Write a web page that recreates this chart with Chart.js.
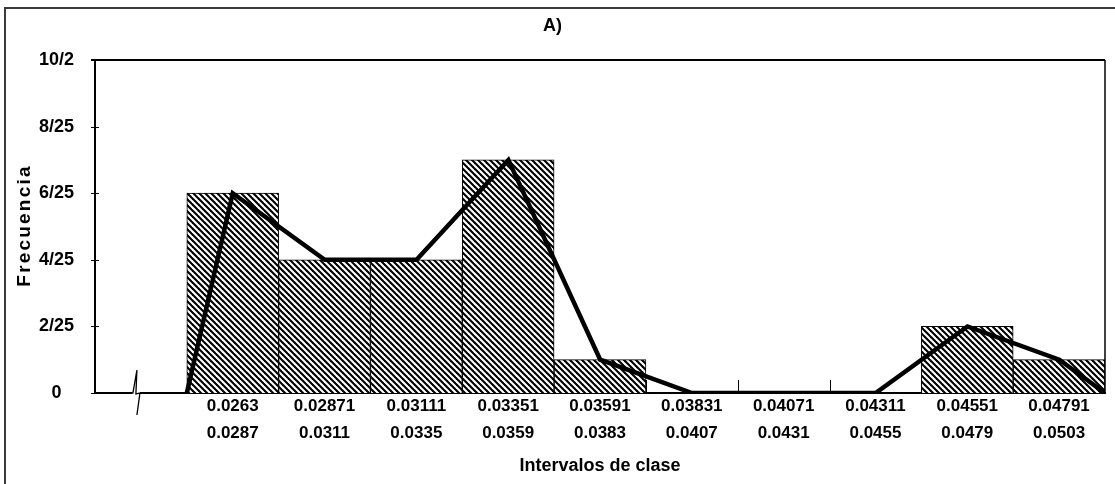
<!DOCTYPE html>
<html>
<head>
<meta charset="utf-8">
<script src="https://cdn.jsdelivr.net/npm/chart.js@4.4.1/dist/chart.umd.min.js"></script>
<style>
  html, body { margin: 0; padding: 0; background: #fff; }
  #wrap { width: 1115px; height: 484px; position: relative; }
</style>
</head>
<body>
<div id="wrap"><canvas id="histo"></canvas></div>
<script>
// Class intervals (lower / upper bounds) and their frequencies
const lowerBounds = ['0.0263', '0.02871', '0.03111', '0.03351', '0.03591', '0.03831', '0.04071', '0.04311', '0.04551', '0.04791'];
const upperBounds = ['0.0287', '0.0311', '0.0335', '0.0359', '0.0383', '0.0407', '0.0431', '0.0455', '0.0479', '0.0503'];
const frequencies = [6, 4, 4, 7, 1, 0, 0, 0, 2, 1];
const yTickLabels = ['0', '2/25', '4/25', '6/25', '8/25', '10/2'];
const classWidth = 0.0024;

const FONT = "'Liberation Sans', Arial, sans-serif";

// One empty leading category holds the axis break
const categories = [['', '']].concat(lowerBounds.map((lo, i) => [lo, upperBounds[i]]));
const barValues = [null].concat(frequencies);

// Frequency polygon: closes at the outer class limits, passes through class marks
const first = parseFloat(lowerBounds[0]);
const last = parseFloat(upperBounds[upperBounds.length - 1]);
const polygon = [{ x: first, y: 0 }]
  .concat(frequencies.map((f, i) => ({
    x: (parseFloat(lowerBounds[i]) + parseFloat(upperBounds[i])) / 2,
    y: f
  })))
  .concat([{ x: last, y: 0 }]);

// Diagonal hatch fill
function hatch() {
  const s = 6;
  const c = document.createElement('canvas');
  c.width = s; c.height = s;
  const g = c.getContext('2d');
  g.fillStyle = '#fff';
  g.fillRect(0, 0, s, s);
  g.strokeStyle = '#000';
  g.lineWidth = 2.1;
  for (const k of [-s, 0, s]) {
    g.beginPath();
    g.moveTo(-1, k - 1);
    g.lineTo(s + 1, k + s + 1);
    g.stroke();
  }
  return g.createPattern(c, 'repeat');
}

const decorations = {
  id: 'decorations',
  beforeDraw(chart) {
    const ctx = chart.ctx;
    ctx.save();
    ctx.strokeStyle = '#3a3a3a';
    ctx.lineWidth = 2;
    ctx.strokeRect(5, 8, 1200, 600);
    ctx.restore();
  },
  beforeDatasetsDraw(chart) {
    const ctx = chart.ctx, a = chart.chartArea, x = chart.scales.x;
    ctx.save();
    ctx.strokeStyle = '#000';
    ctx.lineWidth = 1;
    // upward tick marks at class boundaries
    for (let i = 1; i < categories.length; i++) {
      const px = Math.round((x.getPixelForValue(i - 1) + x.getPixelForValue(i)) / 2) + 0.5;
      ctx.beginPath();
      ctx.moveTo(px, a.bottom);
      ctx.lineTo(px, a.bottom - 13);
      ctx.stroke();
    }
    ctx.restore();
  },
  afterDraw(chart) {
    const ctx = chart.ctx, a = chart.chartArea, y = chart.scales.y, x = chart.scales.x;
    ctx.save();
    ctx.strokeStyle = '#000';
    // frame top and right
    ctx.lineWidth = 2;
    ctx.beginPath();
    ctx.moveTo(a.left - 4, a.top);
    ctx.lineTo(a.right, a.top);
    ctx.stroke();
    ctx.lineWidth = 1.5;
    ctx.beginPath();
    ctx.moveTo(a.right, a.top);
    ctx.lineTo(a.right, a.bottom);
    ctx.stroke();
    // y tick marks crossing the axis
    ctx.lineWidth = 1;
    y.ticks.forEach(t => {
      const py = Math.round(y.getPixelForValue(t.value)) + 0.5;
      ctx.beginPath();
      ctx.moveTo(a.left - 4, py);
      ctx.lineTo(a.left + 4, py);
      ctx.stroke();
    });
    // axis break
    const bx = x.getPixelForValue(0) - 4, by = a.bottom;
    ctx.fillStyle = '#fff';
    ctx.fillRect(bx - 5, by - 2, 8, 4);
    ctx.lineWidth = 1.3;
    ctx.beginPath();
    ctx.moveTo(bx - 7, by);
    ctx.lineTo(bx - 4, by);
    ctx.lineTo(bx, by - 23);
    ctx.lineTo(bx - 1, by + 1);
    ctx.lineTo(bx + 3, by);
    ctx.lineTo(bx, by + 22);
    ctx.stroke();
    // rotated y title with letter spacing
    ctx.fillStyle = '#000';
    ctx.font = "bold 19px " + FONT;
    ctx.translate(25, (a.top + a.bottom) / 2);
    ctx.rotate(-Math.PI / 2);
    ctx.textAlign = 'center';
    ctx.textBaseline = 'middle';
    if ('letterSpacing' in ctx) ctx.letterSpacing = '2.2px';
    ctx.fillText('Frecuencia', 1, 0);
    ctx.restore();
  }
};

new Chart(document.getElementById('histo'), {
  data: {
    labels: categories,
    datasets: [
      {
        type: 'line',
        data: polygon,
        xAxisID: 'xp',
        borderColor: '#000',
        borderWidth: 4.5,
        pointRadius: 0,
        tension: 0,
        order: 0
      },
      {
        type: 'bar',
        data: barValues,
        xAxisID: 'x',
        backgroundColor: hatch(),
        borderColor: '#000',
        borderWidth: 1,
        grouped: false,
        barPercentage: 1,
        categoryPercentage: 1,
        order: 1
      }
    ]
  },
  options: {
    responsive: true,
    maintainAspectRatio: false,
    animation: false,
    events: [],
    layout: { padding: { left: 0, right: 10, top: 0, bottom: 0 } },
    plugins: {
      legend: { display: false },
      tooltip: { enabled: false },
      title: {
        display: true,
        text: 'A)',
        color: '#000',
        font: { family: FONT, size: 18, weight: 'bold', lineHeight: 1.2 },
        padding: { top: 15, bottom: 23.4 }
      }
    },
    scales: {
      x: {
        type: 'category',
        position: 'bottom',
        offset: true,
        grid: { display: false, drawTicks: false },
        border: { display: true, color: '#000', width: 2 },
        ticks: {
          color: '#000',
          padding: 0,
          autoSkip: false,
          maxRotation: 0,
          font: { family: FONT, size: 17, weight: 'bold', lineHeight: 27 / 17 }
        },
        title: {
          display: true,
          text: 'Intervalos de clase',
          color: '#000',
          font: { family: FONT, size: 18, weight: 'bold', lineHeight: 1.2 },
          padding: { top: 0, bottom: 7 }
        },
        afterFit(s) { s.height = 91; }
      },
      xp: {
        type: 'linear',
        display: false,
        min: first - classWidth,
        max: last
      },
      y: {
        type: 'linear',
        min: 0,
        max: 10,
        grid: { display: false, drawTicks: false },
        border: { display: true, color: '#000', width: 2 },
        ticks: {
          stepSize: 2,
          color: '#000',
          padding: 21,
          crossAlign: 'center',
          font: { family: FONT, size: 18, weight: 'bold' },
          callback: (v) => yTickLabels[v / 2]
        },
        afterFit(s) { s.width = 95; }
      }
    }
  },
  plugins: [decorations]
});
</script>
</body>
</html>
